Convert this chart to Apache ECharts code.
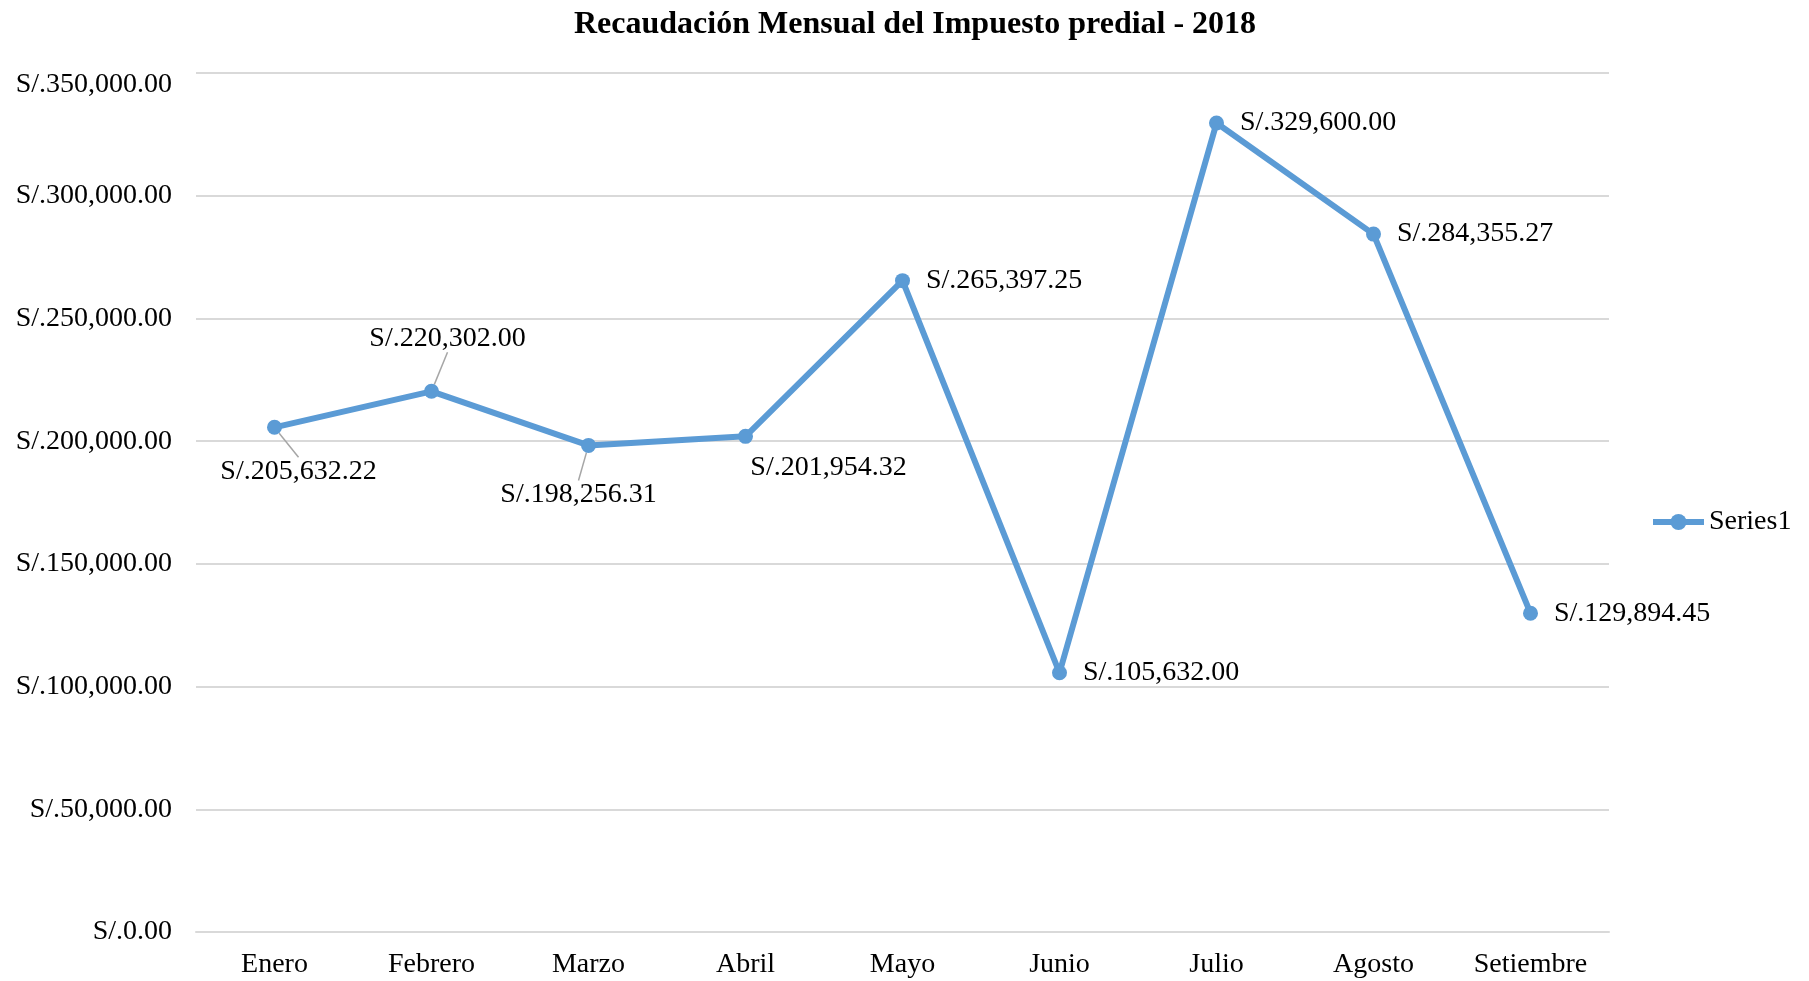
<!DOCTYPE html>
<html>
<head>
<meta charset="utf-8">
<script src="https://cdn.jsdelivr.net/npm/echarts@6/dist/echarts.min.js"></script>
<style>
  html, body { margin: 0; padding: 0; background: #fff; }
  #chart { width: 1809px; height: 981px; }
</style>
</head>
<body>
<div id="chart"></div>
<script>
    // datos
    var meses = ['Enero', 'Febrero', 'Marzo', 'Abril', 'Mayo', 'Junio', 'Julio', 'Agosto', 'Setiembre'];
    var recaudacion = [205632.22, 220302.00, 198256.31, 201954.32, 265397.25, 105632.00, 329600.00, 284355.27, 129894.45];
    var serieNombre = 'Series1';

    var fuente = '"Liberation Serif", "Times New Roman", serif';

    function soles(v) {
        var partes = Number(v).toFixed(2).split('.');
        partes[0] = partes[0].replace(/\B(?=(\d{3})+(?!\d))/g, ',');
        return 'S/.' + partes.join('.');
    }

    // etiquetas movidas a mano (como en el Excel original)
    var etiquetasMovidas = {
        0: { dx: 24, dy: 44, linea: true },
        1: { dx: 16, dy: -53, linea: true },
        2: { dx: -10, dy: 49, linea: true },
        3: { dx: 83, dy: 31, linea: false }
    };

    var puntos = recaudacion.map(function (v, i) {
        var m = etiquetasMovidas[i];
        if (!m) return v;
        return {
            value: v,
            label: { position: 'inside' },
            labelLine: { show: m.linea }
        };
    });

    var chart = echarts.init(document.getElementById('chart'));
    var option = {
        backgroundColor: '#fff',
        title: {
            text: 'Recaudación Mensual del Impuesto predial - 2018',
            left: 574,
            top: 9,
            padding: 0,
            textStyle: {
                fontFamily: fuente,
                fontWeight: 'bold',
                fontSize: 32,
                color: '#000'
            }
        },
        legend: {
            orient: 'vertical',
            left: 1645,
            top: 503,
            itemWidth: 51,
            itemHeight: 20,
            itemGap: 4,
            lineStyle: { width: 6, color: '#5b9bd5' },
            textStyle: {
                fontFamily: fuente,
                fontSize: 28,
                color: '#000'
            },
            data: [serieNombre]
        },
        grid: {
            left: 196,
            right: 200,
            top: 73,
            bottom: 49
        },
        xAxis: {
            type: 'category',
            data: meses,
            boundaryGap: true,
            axisLine: { show: true, lineStyle: { color: '#d9d9d9', width: 2 } },
            axisTick: { show: false },
            axisLabel: {
                margin: 19,
                fontFamily: fuente,
                fontSize: 28,
                color: '#000'
            }
        },
        yAxis: {
            type: 'value',
            min: 0,
            max: 350000,
            interval: 50000,
            axisLine: { show: false },
            axisTick: { show: false },
            splitLine: { lineStyle: { color: '#d9d9d9', width: 2 } },
            axisLabel: {
                margin: 24,
                fontFamily: fuente,
                fontSize: 28,
                color: '#000',
                formatter: function (v) {
                    // la etiqueta superior queda un poco más abajo en el original
                    if (v === 350000) return '{bajo|' + soles(v) + '}';
                    return soles(v);
                },
                rich: {
                    bajo: {
                        fontFamily: fuente,
                        fontSize: 28,
                        color: '#000',
                        padding: [24, 0, 0, 0]
                    }
                }
            }
        },
        series: [
            {
                name: serieNombre,
                type: 'line',
                data: puntos,
                symbol: 'circle',
                symbolSize: 15,
                color: '#5b9bd5',
                lineStyle: { width: 6, color: '#5b9bd5' },
                itemStyle: { color: '#5b9bd5' },
                label: {
                    show: true,
                    position: 'right',
                    distance: 16,
                    fontFamily: fuente,
                    fontSize: 28,
                    color: '#000',
                    formatter: function (p) { return soles(p.value); }
                },
                labelLine: {
                    show: false,
                    lineStyle: { color: '#a6a6a6', width: 1.5 }
                },
                labelLayout: function (p) {
                    var m = etiquetasMovidas[p.dataIndex];
                    if (!m) return {};
                    return { dx: m.dx, dy: m.dy };
                },
                animation: false
            }
        ]
    };
    chart.setOption(option);
</script>
</body>
</html>
